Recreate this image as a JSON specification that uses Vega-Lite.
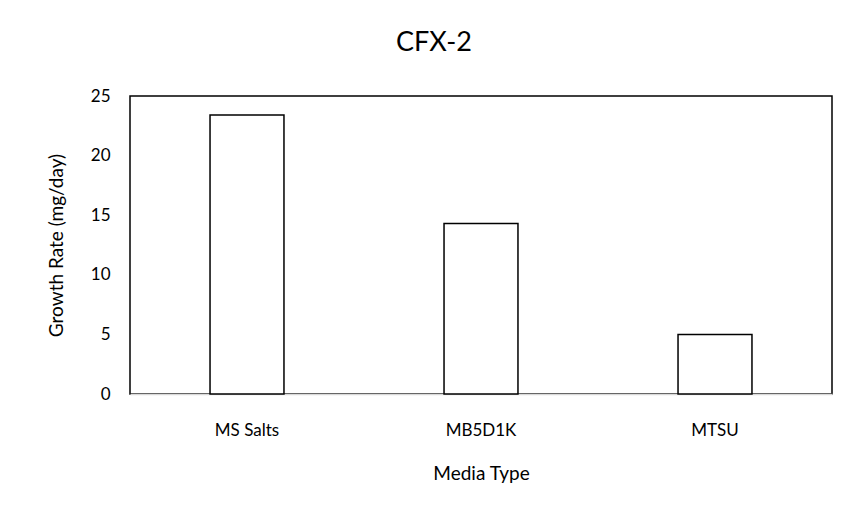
{
  "$schema": "https://vega.github.io/schema/vega-lite/v6.json",
  "width": 702,
  "height": 298,
  "autosize": {"type": "none"},
  "padding": {"left": 130, "top": 96, "right": 26, "bottom": 118},
  "background": "white",
  "title": {
    "text": "CFX-2",
    "font": "Lato",
    "fontSize": 27,
    "fontWeight": "normal",
    "color": "#000000",
    "anchor": "middle",
    "dx": -47,
    "offset": 30
  },
  "data": {
    "values": [
      {"media": "MS Salts", "rate": 23.4},
      {"media": "MB5D1K", "rate": 14.3},
      {"media": "MTSU", "rate": 5.0}
    ]
  },
  "mark": {"type": "bar", "fill": "white", "stroke": "black", "strokeWidth": 1.5},
  "encoding": {
    "x": {
      "field": "media",
      "type": "nominal",
      "sort": null,
      "scale": {"paddingInner": 0.684, "paddingOuter": 0.342},
      "axis": {
        "title": "Media Type",
        "labelAngle": 0,
        "ticks": false,
        "domainColor": "#d9d9d9",
        "domainWidth": 1.5,
        "labelPadding": 28,
        "titlePadding": 26
      }
    },
    "y": {
      "field": "rate",
      "type": "quantitative",
      "scale": {"domain": [0, 25]},
      "axis": {
        "title": "Growth Rate (mg/day)",
        "values": [0, 5, 10, 15, 20, 25],
        "grid": false,
        "ticks": false,
        "domain": false,
        "labelPadding": 20,
        "titlePadding": 24
      }
    }
  },
  "config": {
    "view": {"stroke": "black", "strokeWidth": 1.5},
    "font": "Lato",
    "axis": {
      "labelFont": "Lato",
      "labelFontSize": 17,
      "labelColor": "#000000",
      "titleFont": "Lato",
      "titleFontSize": 19,
      "titleFontWeight": "normal",
      "titleColor": "#000000"
    }
  }
}
